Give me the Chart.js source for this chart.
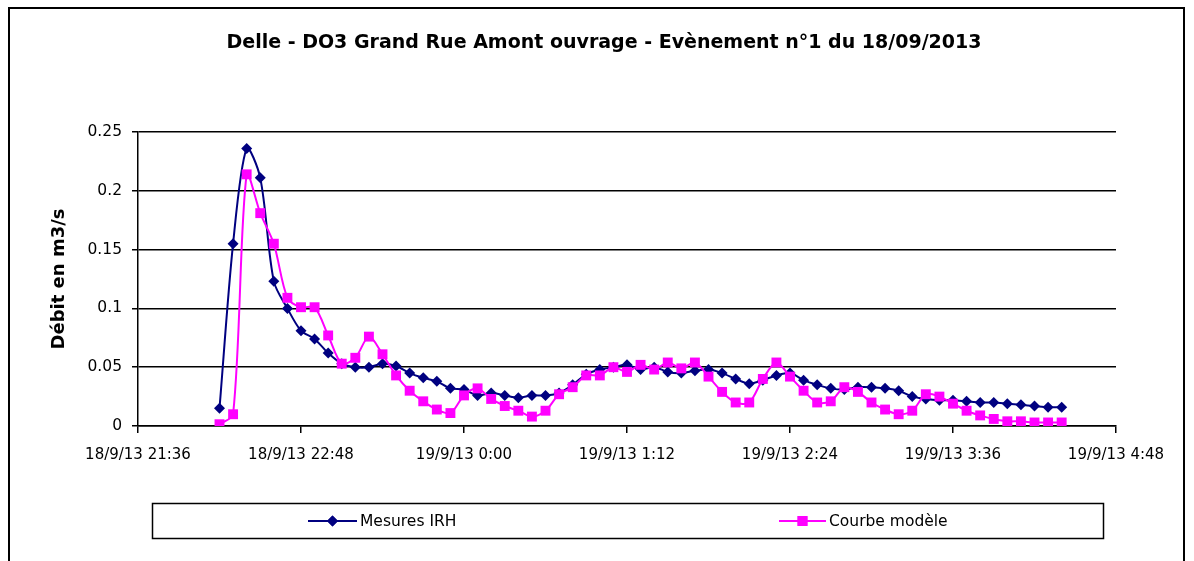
<!DOCTYPE html>
<html>
<head>
<meta charset="utf-8">
<script src="https://cdn.jsdelivr.net/npm/chart.js@4.4.1/dist/chart.umd.min.js"></script>
<style>
  html, body { margin: 0; padding: 0; background: #ffffff; }
  #wrap { width: 1194px; height: 561px; position: relative; }
</style>
</head>
<body>
<div id="wrap"><canvas id="c" width="1194" height="561"></canvas></div>
<script>
// ---------- DATA ----------
const chartTitle = "Delle - DO3 Grand Rue Amont ouvrage - Evènement n°1 du 18/09/2013";
const yAxisTitle = "Débit en m3/s";
const seriesNames = ["Mesures IRH", "Courbe modèle"];

// time of each measurement (18/09 evening to 19/09 morning)
const times = [
  "22:12","22:18","22:24","22:30","22:36","22:42","22:48","22:54","23:00","23:06",
  "23:12","23:18","23:24","23:30","23:36","23:42","23:48","23:54","00:00","00:06",
  "00:12","00:18","00:24","00:30","00:36","00:42","00:48","00:54","01:00","01:06",
  "01:12","01:18","01:24","01:30","01:36","01:42","01:48","01:54","02:00","02:06",
  "02:12","02:18","02:24","02:30","02:36","02:42","02:48","02:54","03:00","03:06",
  "03:12","03:18","03:24","03:30","03:36","03:42","03:48","03:54","04:00","04:06",
  "04:12","04:18","04:24"
];

const mesuresIRH = [
  0.015,0.155,0.236,0.211,0.123,0.100,0.081,0.074,0.062,0.053,
  0.050,0.050,0.053,0.051,0.045,0.041,0.038,0.032,0.031,0.026,
  0.028,0.026,0.024,0.026,0.026,0.028,0.035,0.044,0.048,0.050,
  0.052,0.048,0.050,0.046,0.045,0.047,0.048,0.045,0.040,0.036,
  0.039,0.043,0.045,0.039,0.035,0.032,0.031,0.033,0.033,0.032,
  0.030,0.025,0.023,0.022,0.022,0.021,0.020,0.020,0.019,0.018,
  0.017,0.016,0.016
];

const courbeModele = [
  0.0015,0.010,0.214,0.181,0.155,0.109,0.101,0.101,0.077,0.053,
  0.058,0.076,0.061,0.043,0.030,0.021,0.014,0.011,0.026,0.032,
  0.023,0.017,0.013,0.008,0.013,0.027,0.033,0.043,0.043,0.050,
  0.046,0.052,0.048,0.054,0.049,0.054,0.042,0.029,0.020,0.020,
  0.040,0.054,0.042,0.030,0.020,0.021,0.033,0.029,0.020,0.014,
  0.010,0.013,0.027,0.025,0.019,0.013,0.009,0.006,0.004,0.004,
  0.003,0.003,0.003
];

const xTickLabels = ["18/9/13 21:36","18/9/13 22:48","19/9/13 0:00","19/9/13 1:12","19/9/13 2:24","19/9/13 3:36","19/9/13 4:48"];
const yTicks = [0, 0.05, 0.1, 0.15, 0.2, 0.25];

// ---------- helpers ----------
const ORIGIN = 21 * 60 + 36; // 18/9/13 21:36
function hmToMin(hm) {
  const p = hm.split(":").map(Number);
  let m = p[0] * 60 + p[1];
  if (p[0] < 12) m += 24 * 60;
  return m - ORIGIN;
}
function labelToMin(lbl) { return hmToMin(lbl.split(" ")[1]); }
const tickValues = xTickLabels.map(labelToMin);
const xs = times.map(hmToMin);
const ptsIRH = xs.map((x, i) => ({ x: x, y: mesuresIRH[i] }));
const ptsMod = xs.map((x, i) => ({ x: x, y: courbeModele[i] }));

const BLUE = "#000080";
const PINK = "#FF00FF";
const FONT = "'DejaVu Sans', 'Liberation Sans', Arial, sans-serif";

Chart.defaults.font.family = FONT;
Chart.defaults.color = "#000";

const decorPlugin = {
  id: "decor",
  beforeDraw(chart) {
    const ctx = chart.ctx;
    ctx.save();
    ctx.fillStyle = "#fff";
    ctx.fillRect(0, 0, chart.width, chart.height);
    ctx.restore();
  },
  afterDraw(chart) {
    const ctx = chart.ctx;
    ctx.save();
    // outer frame
    ctx.strokeStyle = "#000";
    ctx.lineWidth = 2;
    ctx.beginPath();
    ctx.moveTo(9, 570);
    ctx.lineTo(9, 8);
    ctx.lineTo(1184, 8);
    ctx.lineTo(1184, 570);
    ctx.stroke();

    // title
    ctx.fillStyle = "#000";
    ctx.font = "bold 19px " + FONT;
    ctx.textAlign = "center";
    ctx.textBaseline = "alphabetic";
    ctx.fillText(chartTitle, 604, 48);

    // y axis title
    ctx.save();
    ctx.translate(64, 279);
    ctx.rotate(-Math.PI / 2);
    ctx.font = "bold 18px " + FONT;
    ctx.textAlign = "center";
    ctx.textBaseline = "alphabetic";
    ctx.fillText(yAxisTitle, 0, 0);
    ctx.restore();

    // legend box
    ctx.lineWidth = 1.5;
    ctx.strokeStyle = "#000";
    ctx.strokeRect(152.5, 503.5, 951, 35);
    const ly = 521;
    const items = [
      { ds: chart.data.datasets[1], x0: 308, x1: 357, tx: 360 },
      { ds: chart.data.datasets[0], x0: 779, x1: 826, tx: 829 }
    ];
    ctx.font = "15.5px " + FONT;
    ctx.textAlign = "left";
    ctx.textBaseline = "middle";
    items.forEach(it => {
      ctx.strokeStyle = it.ds.borderColor;
      ctx.lineWidth = 2;
      ctx.beginPath();
      ctx.moveTo(it.x0, ly);
      ctx.lineTo(it.x1, ly);
      ctx.stroke();
      ctx.fillStyle = it.ds.backgroundColor;
      Chart.helpers.drawPoint(ctx, {
        pointStyle: it.ds.pointStyle,
        radius: it.ds.pointRadius,
        borderWidth: 0
      }, (it.x0 + it.x1) / 2, ly);
      ctx.fill();
      ctx.fillStyle = "#000";
      ctx.fillText(it.ds.label, it.tx, ly + 1);
    });
    ctx.restore();
  }
};

new Chart(document.getElementById("c"), {
  type: "line",
  data: {
    datasets: [
      {
        label: seriesNames[1],
        data: ptsMod,
        borderColor: PINK,
        backgroundColor: PINK,
        pointStyle: "rect",
        pointRadius: 7,
        pointBorderWidth: 0,
        borderWidth: 2,
        tension: 0.3,
        fill: false
      },
      {
        label: seriesNames[0],
        data: ptsIRH,
        borderColor: BLUE,
        backgroundColor: BLUE,
        pointStyle: "rectRot",
        pointRadius: 5.5,
        pointBorderWidth: 0,
        borderWidth: 2,
        tension: 0.3,
        fill: false
      }
    ]
  },
  options: {
    responsive: false,
    animation: false,
    events: [],
    layout: { padding: { left: 0, top: 132, right: 78, bottom: 95 } },
    plugins: {
      legend: { display: false },
      title: { display: false },
      tooltip: { enabled: false }
    },
    scales: {
      x: {
        type: "linear",
        min: tickValues[0],
        max: tickValues[tickValues.length - 1],
        afterBuildTicks(scale) { scale.ticks = tickValues.map(v => ({ value: v })); },
        afterFit(scale) { scale.height = 40; },
        ticks: {
          autoSkip: false,
          maxRotation: 0,
          padding: 13,
          color: "#000",
          font: { size: 15, family: FONT },
          callback(value, index) { return xTickLabels[index]; }
        },
        grid: { display: true, drawOnChartArea: false, drawTicks: true, tickLength: 7, color: "#000", lineWidth: 1.5 },
        border: { display: true, color: "#000", width: 1.5 }
      },
      y: {
        type: "linear",
        min: yTicks[0],
        max: yTicks[yTicks.length - 1],
        afterBuildTicks(scale) { scale.ticks = yTicks.map(v => ({ value: v })); },
        afterFit(scale) { scale.width = 138; },
        ticks: {
          padding: 10,
          color: "#000",
          font: { size: 15.5, family: FONT },
          callback(value) { return String(value); }
        },
        grid: { display: true, drawOnChartArea: true, drawTicks: true, tickLength: 6, color: "#000", lineWidth: 1.5 },
        border: { display: true, color: "#000", width: 1.5 }
      }
    }
  },
  plugins: [decorPlugin]
});
</script>
</body>
</html>
